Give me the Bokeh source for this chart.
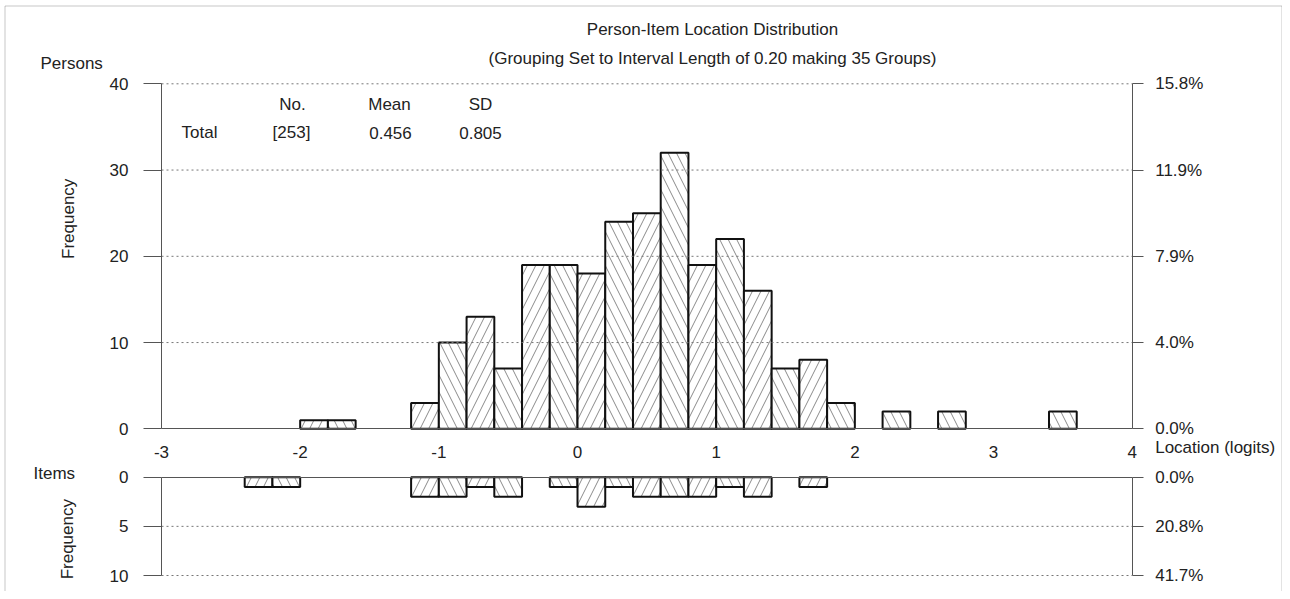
import math
from bokeh.plotting import figure
from bokeh.models import (ColumnDataSource, LinearAxis, FixedTicker, Label, Range1d,
                          BoxAnnotation)
from bokeh.core.properties import field
from bokeh.embed import file_html
from bokeh.resources import INLINE

# ---------------- data ----------------
TITLE = "Person-Item Location Distribution"
SUBTITLE = "(Grouping Set to Interval Length of 0.20 making 35 Groups)"
X_START, X_END, BIN_WIDTH = -3.0, 4.0, 0.20
X_TICKS = [-3, -2, -1, 0, 1, 2, 3, 4]

PERSON_BIN_LEFT = [-2.0, -1.8, -1.2, -1.0, -0.8, -0.6, -0.4, -0.2, 0.0, 0.2, 0.4,
                   0.6, 0.8, 1.0, 1.2, 1.4, 1.6, 1.8, 2.2, 2.6, 3.4]
PERSON_FREQ = [1, 1, 3, 10, 13, 7, 19, 19, 18, 24, 25,
               32, 19, 22, 16, 7, 8, 3, 2, 2, 2]

ITEM_BIN_LEFT = [-2.4, -2.2, -1.2, -1.0, -0.8, -0.6, -0.2, 0.0, 0.2, 0.4, 0.6,
                 0.8, 1.0, 1.2, 1.6]
ITEM_FREQ = [1, 1, 2, 2, 1, 2, 1, 3, 1, 2, 2, 2, 1, 2, 1]

PERSON_Y_TICKS = [0, 10, 20, 30, 40]
ITEM_Y_TICKS = [0, 5, 10]

STAT_HEADERS = ["No.", "Mean", "SD"]
STAT_ROW_LABEL = "Total"
STAT_VALUES = ["[253]", "0.456", "0.805"]

# ---------------- layout (canvas pixels) ----------------
CANVAS_W, CANVAS_H = 1282, 591
X0_PX, X1_PX = 161.0, 1131.7      # x = X_START, X_END
P0_PX, PTOP_PX = 428.3, 83.3      # persons 0 and top tick
I0_PX, ITOP_PX = 476.7, 575.0     # items 0 and bottom tick

FONT = "Liberation Sans"
FS = "17px"
TXT = "#222222"
AX = "#555555"
GRID = "#777777"

p_max = PERSON_Y_TICKS[-1]
i_max = ITEM_Y_TICKS[-1]

sx = (X1_PX - X0_PX) / (X_END - X_START)
x_lo = X_START - X0_PX / sx
x_hi = X_END + (CANVAS_W - X1_PX) / sx
sp = (P0_PX - PTOP_PX) / p_max
y_lo = -(CANVAS_H - P0_PX) / sp
y_hi = p_max + PTOP_PX / sp
si = (ITOP_PX - I0_PX) / i_max
i_bottom = i_max + (CANVAS_H - ITOP_PX) / si
i_top = -I0_PX / si


def px_x(px):
    return x_lo + px / sx


def px_y(py):
    return y_hi - py / sp


def hist_source(lefts, freqs):
    idx = [round((l - X_START) / BIN_WIDTH) for l in lefts]
    pats = ["/" if k % 2 == 1 else "\\" for k in idx]
    return ColumnDataSource(dict(
        left=lefts, right=[l + BIN_WIDTH for l in lefts],
        top=freqs, bottom=[0] * len(freqs), pattern=pats))


def pct(v, total):
    return f"{v / total * 100:.1f}%"


def axis(ticks, fixed, bounds, tick_out, standoff, overrides=None, rng="default"):
    ax = LinearAxis(ticker=FixedTicker(ticks=ticks), fixed_location=fixed,
                    bounds=bounds, y_range_name=rng)
    ax.axis_line_color = AX
    ax.axis_line_width = 1
    ax.major_tick_line_color = AX
    ax.major_tick_out = tick_out
    ax.major_tick_in = 0
    ax.minor_tick_out = 0
    ax.minor_tick_in = 0
    ax.major_label_standoff = standoff
    ax.major_label_text_font = FONT
    ax.major_label_text_font_size = FS
    ax.major_label_text_color = TXT
    ax.major_label_overrides = overrides or {t: str(t) for t in ticks}
    return ax


def lbl(p, x, y, text, dx, dy, align="center", angle=0.0, rng="default"):
    p.add_layout(Label(x=x, y=y, x_offset=dx, y_offset=dy, text=text,
                       text_align=align, text_baseline="middle", angle=angle,
                       text_font=FONT, text_font_size=FS, text_color=TXT,
                       y_range_name=rng))


def draw_hist(p, src, rng="default"):
    p.quad(source=src, left="left", right="right", top="top", bottom="bottom",
           fill_color="white", line_color="#111111", line_width=2,
           hatch_pattern=field("pattern"), hatch_color="#8a8a8a",
           hatch_scale=17, hatch_weight=1, y_range_name=rng)


def grid_lines(p, ticks, rng="default"):
    src = ColumnDataSource(dict(x0=[X_START] * len(ticks), x1=[X_END] * len(ticks),
                                y=ticks))
    p.segment(source=src, x0="x0", x1="x1", y0="y", y1="y", line_color=GRID,
              line_width=1, line_dash="2 3", y_range_name=rng)


total_p = sum(PERSON_FREQ)
total_i = sum(ITEM_FREQ)

p = figure(width=CANVAS_W, height=CANVAS_H, x_range=Range1d(x_lo, x_hi),
           y_range=Range1d(y_lo, y_hi), min_border=0,
           x_axis_location=None, y_axis_location=None,
           output_backend="svg", toolbar_location=None)
p.extra_y_ranges = {"items": Range1d(start=i_bottom, end=i_top)}
p.outline_line_color = None
p.xgrid.visible = False
p.ygrid.visible = False

# ---------------- persons panel ----------------
draw_hist(p, hist_source(PERSON_BIN_LEFT, PERSON_FREQ))
grid_lines(p, PERSON_Y_TICKS[1:])
p.add_layout(axis(PERSON_Y_TICKS, X_START, (0, p_max), 18, 15), "left")
p.add_layout(axis(PERSON_Y_TICKS, X_END, (0, p_max), 11, 12,
                  {t: pct(t, total_p) for t in PERSON_Y_TICKS}), "right")
p.add_layout(axis([], 0, (X_START, X_END), 0, 0), "below")

lbl(p, X_START, p_max, TITLE, 551, 54)
lbl(p, X_START, p_max, SUBTITLE, 551, 25)
lbl(p, X_START, p_max, "Persons", -121, 20, align="left")
lbl(p, X_START, p_max, "Frequency", -93, -135, angle=math.pi / 2)
for txt, dx in zip(STAT_HEADERS, [131, 228, 319]):
    lbl(p, X_START, p_max, txt, dx, -21)
for txt, dx in zip([STAT_ROW_LABEL] + STAT_VALUES, [38, 130, 229, 319]):
    lbl(p, X_START, p_max, txt, dx, -49)

# ---------------- items panel ----------------
draw_hist(p, hist_source(ITEM_BIN_LEFT, ITEM_FREQ), rng="items")
grid_lines(p, ITEM_Y_TICKS[1:], rng="items")
p.add_layout(axis(ITEM_Y_TICKS, X_START, (0, i_max), 18, 15, rng="items"), "left")
p.add_layout(axis(ITEM_Y_TICKS, X_END, (0, i_max), 11, 12,
                  {t: pct(t, total_i) for t in ITEM_Y_TICKS}, rng="items"), "right")
p.add_layout(axis(X_TICKS, 0, (X_START, X_END), 0, 19, rng="items"), "above")

lbl(p, X_START, 0, "Items", -128, 4, align="left", rng="items")
lbl(p, X_START, 0, "Frequency", -94, -62, angle=math.pi / 2, rng="items")
lbl(p, X_END, 0, "Location (logits)", 23, 30, align="left", rng="items")

# ---------------- outer frame (open at the bottom) ----------------
p.add_layout(BoxAnnotation(left=px_x(4.5), right=px_x(1281.5), top=px_y(5.5),
                           bottom=y_lo - 100, fill_alpha=0,
                           line_color="#444444", line_width=1))

open("out.html", "w").write(file_html(p, INLINE))
